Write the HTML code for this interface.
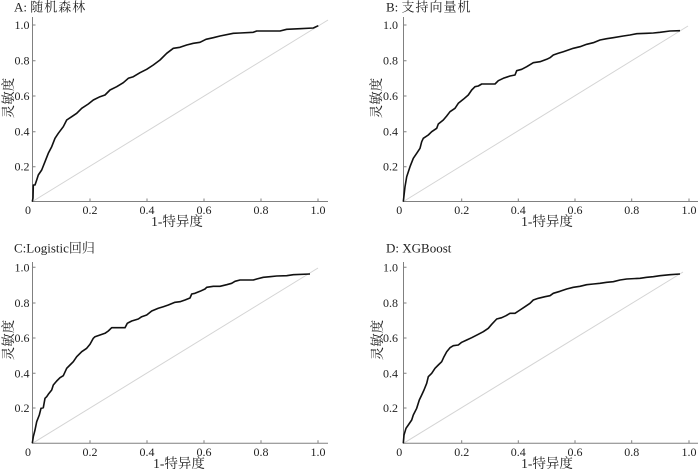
<!DOCTYPE html>
<html>
<head>
<meta charset="utf-8">
<style>
html,body{margin:0;padding:0;background:#fff;}
svg{display:block;}
text{font-family:"Liberation Serif","Noto Serif CJK SC",serif;fill:#222;}
.tk{font-size:12px;}
.lb{font-size:13.5px;}
.ti{font-size:13px;}
.ax{stroke:#808080;stroke-width:1;fill:none;}
.dg{stroke:#d4d4d4;stroke-width:1;fill:none;}
.cv{stroke:#111;stroke-width:1.6;fill:none;stroke-linejoin:round;}
</style>
</head>
<body>
<svg width="700" height="469" viewBox="0 0 700 469" xmlns="http://www.w3.org/2000/svg">

<!-- ===== Panel A ===== -->
<text class="ti" x="14" y="11.5">A: <tspan letter-spacing="1">随机森林</tspan></text>
<line class="dg" x1="32.5" y1="201.5" x2="328" y2="20"/>
<path class="ax" d="M32.5,17 V201.5 H328"/>
<path class="ax" d="M32.5,25 h3 M32.5,60.7 h3 M32.5,96 h3 M32.5,131.7 h3 M32.5,166.7 h3 M90,201.5 v-3 M147,201.5 v-3 M204,201.5 v-3 M261,201.5 v-3 M318,201.5 v-3"/>
<g class="tk" text-anchor="end">
<text x="29.5" y="29">1.0</text><text x="29.5" y="64.7">0.8</text><text x="29.5" y="100">0.6</text><text x="29.5" y="135.7">0.4</text><text x="29.5" y="170.7">0.2</text>
</g>
<g class="tk" text-anchor="middle">
<text x="28" y="214">0</text><text x="90" y="214">0.2</text><text x="147" y="214">0.4</text><text x="204" y="214">0.6</text><text x="261" y="214">0.8</text><text x="318" y="214">1.0</text>
</g>
<text class="lb" x="177" y="226" text-anchor="middle">1-特异度</text>
<text class="lb" text-anchor="middle" transform="translate(13,98) rotate(-90)">灵敏度</text>
<polyline class="cv" points="32.3,201.7 33,198 33.3,185 35,185 36.7,180 38.3,175 41.7,170 45,161.7 48.3,153.3 51.7,146.7 55,138.3 58.3,133.3 63.3,126.7 66.7,120 71.7,116.7 76.7,113.3 81.7,108.3 88.3,104 93.3,100 100,96.7 105,95 110,90 116.7,86.7 123.3,82.7 128.3,78.3 133.3,76.7 140,72.7 146.7,69.3 153.3,65 160,60 166.7,53.3 173.3,48.3 180,47.3 186.7,45 193.3,43.3 200,42.3 206,39.3 213.3,37.7 220,36 233.3,33.3 240,33 253.3,32.3 256.7,31 266.7,31 280,31 286.7,29.3 300,28.7 313.3,28 318.3,25.7"/>

<!-- ===== Panel B ===== -->
<text class="ti" x="386" y="11.5">B: <tspan letter-spacing="1">支持向量机</tspan></text>
<line class="dg" x1="403.5" y1="201.5" x2="688" y2="26"/>
<path class="ax" d="M403.5,17 V201.5 H698"/>
<path class="ax" d="M403.5,25 h3 M403.5,60.7 h3 M403.5,96 h3 M403.5,131.7 h3 M403.5,166.7 h3 M461.7,201.5 v-3 M518.3,201.5 v-3 M575,201.5 v-3 M631.7,201.5 v-3 M689,201.5 v-3"/>
<g class="tk" text-anchor="end">
<text x="398" y="29">1.0</text><text x="398" y="64.7">0.8</text><text x="398" y="100">0.6</text><text x="398" y="135.7">0.4</text><text x="398" y="170.7">0.2</text>
</g>
<g class="tk" text-anchor="middle">
<text x="399.3" y="214">0</text><text x="461.7" y="214">0.2</text><text x="518.3" y="214">0.4</text><text x="575" y="214">0.6</text><text x="631.7" y="214">0.8</text><text x="689" y="214">1.0</text>
</g>
<text class="lb" x="547" y="226" text-anchor="middle">1-特异度</text>
<text class="lb" text-anchor="middle" transform="translate(381,98) rotate(-90)">灵敏度</text>
<polyline class="cv" points="403.3,201.7 405,186.7 406.7,176.7 410,166.7 413.3,158.3 416.7,153.3 420,148.3 421.7,141.7 423.3,138.3 428.3,135 431.7,131.7 436.7,128.3 438.3,124 443.3,120 446.7,116 450,111.7 455,108.3 458.3,103.3 463.3,99.3 468.3,95 471.7,90 475,86.7 478.3,86 481.7,84 488.3,84 495,84 498.3,80.7 503.3,78.3 510,76 515,75 516.7,70.7 521.7,69.3 526.7,66.7 533.3,62.7 540,61.7 546.7,59.3 550,57.7 553.3,55 558.3,53.3 563.3,51.7 568.3,50 573.3,48.3 580,46.7 586.7,44.3 593.3,42.7 600,40 606.7,38.7 613.3,37.7 623.3,36 630,35 636.7,33.7 646.7,33.3 653.3,33 660,32.3 670,31 680,30.7"/>

<!-- ===== Panel C ===== -->
<text class="ti" x="14" y="252.5">C:Logistic回归</text>
<line class="dg" x1="32.5" y1="443.3" x2="318" y2="268"/>
<path class="ax" d="M32.5,262 V443.3 H328"/>
<path class="ax" d="M32.5,267.3 h3 M32.5,303 h3 M32.5,338 h3 M32.5,373.3 h3 M32.5,408 h3 M90,443.3 v-3 M147,443.3 v-3 M204,443.3 v-3 M261,443.3 v-3 M318,443.3 v-3"/>
<g class="tk" text-anchor="end">
<text x="29.5" y="271.3">1.0</text><text x="29.5" y="307">0.8</text><text x="29.5" y="342">0.6</text><text x="29.5" y="377.3">0.4</text><text x="29.5" y="412">0.2</text>
</g>
<g class="tk" text-anchor="middle">
<text x="28" y="456">0</text><text x="90" y="456">0.2</text><text x="147" y="456">0.4</text><text x="204" y="456">0.6</text><text x="261" y="456">0.8</text><text x="318" y="456">1.0</text>
</g>
<text class="lb" x="179" y="468" text-anchor="middle">1-特异度</text>
<text class="lb" text-anchor="middle" transform="translate(13,340) rotate(-90)">灵敏度</text>
<polyline class="cv" points="32.3,443.3 33.3,436.7 35,430 36.7,421.7 39.3,415 41,408.3 43.3,407.7 45,398.3 46.7,396.7 48.3,394.3 51.7,390 53.3,385 56.7,381 60,377.7 63.3,375.7 66.7,368.3 70,365 73.3,361.7 76.7,356.7 81.7,351.7 86.7,348.3 90,344.3 93.3,338.3 95,336.7 100,335 105,333.3 108.3,331 111.7,327.7 118.3,327.7 125,327.7 127.3,323.3 131.7,321 138.3,319 141.7,316.7 146.7,315 151.7,311 158.3,308.3 163.3,306.7 168.3,305 175,302.3 180,301.7 185,300 190,298 191.7,294 195,293.3 200,291.3 205,289 206.7,287.3 213.3,286.3 220,286.3 226.7,284.7 231.7,283.3 235,281.3 240,280 253.3,280 256.7,279 263.3,277.3 270,276.7 276.7,276 286.7,275.7 293.3,274.7 310,274"/>

<!-- ===== Panel D ===== -->
<text class="ti" x="386" y="252.5">D: XGBoost</text>
<line class="dg" x1="403.5" y1="443.3" x2="683" y2="272"/>
<path class="ax" d="M403.5,262 V443.3 H698"/>
<path class="ax" d="M403.5,267.3 h3 M403.5,303 h3 M403.5,338 h3 M403.5,373.3 h3 M403.5,408 h3 M461.7,443.3 v-3 M518.3,443.3 v-3 M575,443.3 v-3 M631.7,443.3 v-3 M689,443.3 v-3"/>
<g class="tk" text-anchor="end">
<text x="398" y="271.3">1.0</text><text x="398" y="307">0.8</text><text x="398" y="342">0.6</text><text x="398" y="377.3">0.4</text><text x="398" y="412">0.2</text>
</g>
<g class="tk" text-anchor="middle">
<text x="399.3" y="456">0</text><text x="461.7" y="456">0.2</text><text x="518.3" y="456">0.4</text><text x="575" y="456">0.6</text><text x="631.7" y="456">0.8</text><text x="689" y="456">1.0</text>
</g>
<text class="lb" x="547" y="468" text-anchor="middle">1-特异度</text>
<text class="lb" text-anchor="middle" transform="translate(382,340) rotate(-90)">灵敏度</text>
<polyline class="cv" points="403.3,443.3 404,435 406,428.3 408.3,425 411.7,420 413.3,415 416.7,408.3 419.3,400 421.7,395 424,390 426.7,383.3 428.3,376.7 431.7,373.3 435,368.3 438.3,365 441.7,361.7 444,356.7 446.7,351.7 450,347.7 453.3,345.7 458.3,345 461.7,342.3 466.7,340 471.7,337.7 478.3,334.3 483.3,331.7 488.3,328.3 491.7,324.3 496.7,319 501.7,317.7 506,315.7 510,313.3 515,313.3 520,310 525,306.7 530,303.3 533.3,300 538.3,298.3 545,296.7 550,295.7 553.3,293.3 560,291.3 566.7,289 573.3,287.3 580,286.3 586.7,284.7 593.3,284 600,283.3 606.7,282.3 613.3,281.7 620,280 626.7,279 640,278.3 646.7,277.3 653.3,276.7 660,275.7 670,274.7 680,274"/>

</svg>
</body>
</html>
